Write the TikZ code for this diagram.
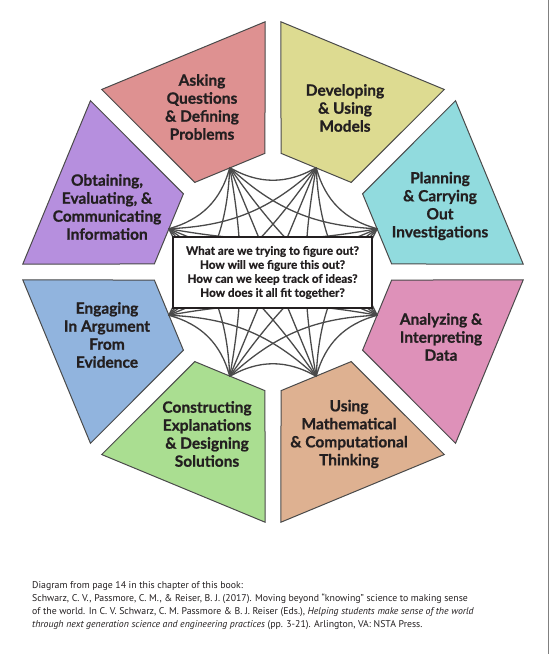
\documentclass[tikz,border=0pt]{standalone}
\usepackage{fontspec}
\setmainfont{PT Sans}
\newfontfamily\lblfont{Lato}[BoldFeatures={FakeBold=0.8}]
\usetikzlibrary{calc}

\definecolor{plancol}{RGB}{145,219,222}
\definecolor{devcol}{RGB}{221,219,145}
\definecolor{askcol}{RGB}{222,145,145}
\definecolor{obtcol}{RGB}{182,143,222}
\definecolor{engcol}{RGB}{145,180,222}
\definecolor{concol}{RGB}{170,222,145}
\definecolor{usecol}{RGB}{222,177,145}
\definecolor{anacol}{RGB}{222,145,185}
\definecolor{inkcol}{RGB}{35,31,32}
\definecolor{linecol}{RGB}{74,74,74}

\begin{document}
\begin{tikzpicture}[x=1pt,y=1pt,
 seg/.style={draw=linecol,line width=1pt},
 web/.style={draw=linecol,line width=1.3pt},
 lbl/.style={font=\lblfont\bfseries\fontsize{15.5}{18}\selectfont,align=center,text=inkcol}]
\useasboundingbox (-273,-382) rectangle (277,272);
% octagon ring, one trapezoid per practice
\foreach \i/\col in {0/plancol,1/devcol,2/askcol,3/obtcol,4/engcol,5/concol,6/usecol,7/anacol}{
 \begin{scope}[rotate=45*\i-67.5]
 \draw[seg,fill=\col] (-88.4,234.2) -- (88.4,234.2) -- (38,112.7) -- (-38,112.7) -- cycle;
 \end{scope}
 \coordinate (p\i) at (22.5+45*\i:113);
}
% web between all practices
\foreach \i in {0,...,7}{
 \foreach \s/\b in {1/30,2/20,3/10}{
  \pgfmathtruncatemacro\j{mod(\i+\s,8)}
  \draw[web] (p\i) to[bend left=\b] (p\j);
 }
}
\foreach \i in {0,...,3}{
 \pgfmathtruncatemacro\j{\i+4}
 \draw[web] (p\i) -- (p\j);
}
\node[draw=inkcol,line width=1.5pt,fill=white,minimum width=199pt,minimum height=71pt,
 align=center,font=\lblfont\bfseries\fontsize{11.7}{14}\selectfont,text=inkcol] (quest) at (-0.5,-0.5)
 {What are we trying to figure out?\\How will we figure this out?\\How can we keep track of ideas?\\How does it all fit together?};
\node[lbl] (ask) at (-71,165) {Asking\\Questions\\\& Defining\\Problems};
\node[lbl] (dev) at (72,164) {Developing\\\& Using\\Models};
\node[lbl] (plan) at (167,66) {Planning\\\& Carrying\\Out\\Investigations};
\node[lbl] (ana) at (168,-65) {Analyzing \&\\Interpreting\\Data};
\node[lbl] (use) at (76,-162) {Using\\Mathematical\\\& Computational\\Thinking};
\node[lbl] (con) at (-66,-162) {Constructing\\Explanations\\\& Designing\\Solutions};
\node[lbl] (eng) at (-166,-63) {Engaging\\In Argument\\From\\Evidence};
\node[lbl] (obt) at (-166,65) {Obtaining,\\Evaluating, \&\\Communicating\\Information};
% source note
\node[anchor=north west,inner sep=0pt,align=left,text=inkcol,font=\fontsize{9.8}{13}\selectfont] (src) at (-241,-309)
 {Diagram from page 14 in this chapter of this book:\\
 Schwarz, C. V., Passmore, C. M., \& Reiser, B. J. (2017). Moving beyond “knowing” science to making sense\\
 of the world. In C. V. Schwarz, C. M. Passmore \& B. J. Reiser (Eds.), \textit{Helping students make sense of the world}\\
 \textit{through next generation science and engineering practices} (pp. 3-21). Arlington, VA: NSTA Press.};
\draw[gray,line width=0.8pt] (275,272) -- (275,-382);
\end{tikzpicture}
\end{document}
